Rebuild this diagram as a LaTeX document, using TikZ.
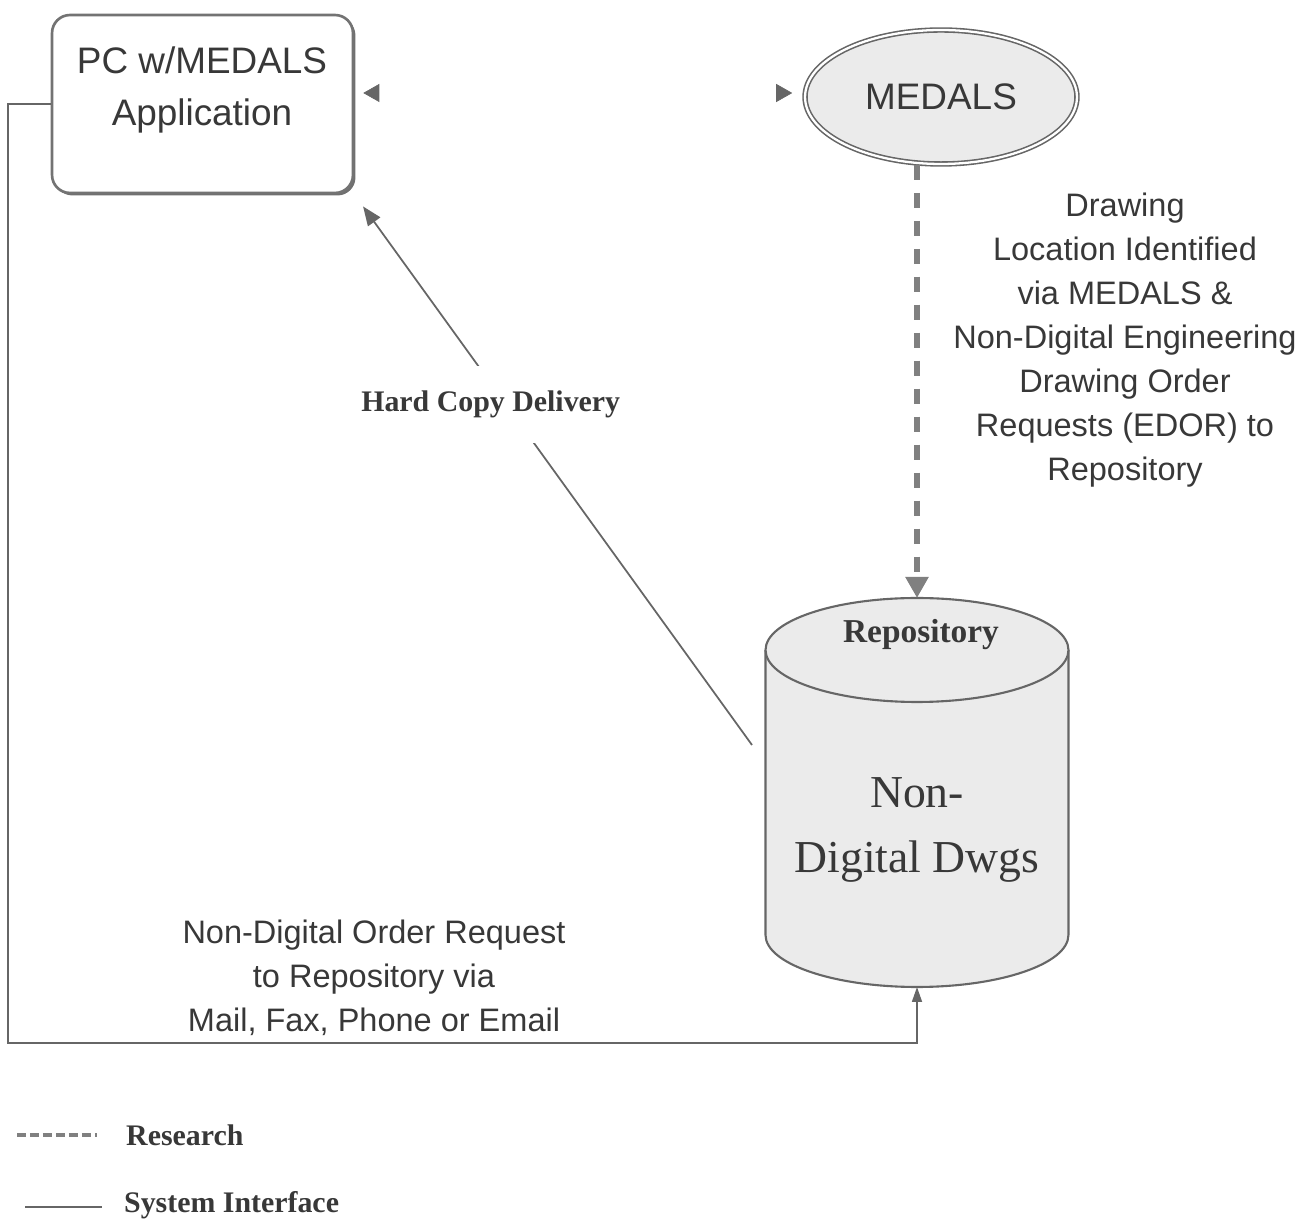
\documentclass[tikz,border=0pt]{standalone}
\usepackage{fontspec}
\setmainfont{Liberation Serif}
\setsansfont{Liberation Sans}
\usetikzlibrary{arrows.meta,shapes.geometric,shadows}

\begin{document}
\begin{tikzpicture}[x=0.02cm, y=0.02cm,
    every node/.style={text=black!78},
    sysline/.style={draw=black!60, line width=1pt},
    research/.style={draw=black!50, line width=3.2pt, dash pattern=on 0.3cm off 0.26cm},
    pcbox/.style={draw=black!55, line width=1.5pt, rounded corners=0.36cm, fill=white,
      minimum width=6.02cm, minimum height=3.56cm,
      drop shadow={shadow xshift=0.05cm, shadow yshift=-0.05cm, fill=black!70, opacity=0.8}},
    medalsbox/.style={ellipse, draw=black!60, line width=0.9pt, double=white, double distance=1.3pt,
      fill=black!8, minimum width=5.44cm, minimum height=2.68cm,
      font=\sffamily\fontsize{21}{29.6}\selectfont},
    dbbox/.style={draw=black!60, line width=1.2pt, fill=black!8},
    boxfont/.style={font=\sffamily\fontsize{21}{29.6}\selectfont, align=center},
    sansnote/.style={font=\sffamily\fontsize{18.5}{25}\selectfont, align=center},
    serifnote/.style={font=\bfseries\fontsize{17}{20}\selectfont},
  ]
  \useasboundingbox (0,0) rectangle (1316,1228);

  % boxes
  \node[pcbox] (pc) at (202.5,1124) {};
  \node[boxfont] (pctext) at (202,1138) {PC w/MEDALS\\Application};
  \node[medalsbox] (medals) at (941,1131) {MEDALS};

  % repository
  \draw[dbbox] (765.5,578) -- (765.5,293)
    arc[start angle=180, end angle=360, x radius=3.03cm, y radius=1.04cm] -- (1068.5,578);
  \draw[dbbox] (917,578) ellipse[x radius=3.03cm, y radius=1.04cm];
  \coordinate (repotop) at (917,630);
  \coordinate (repobot) at (917,241);
  \node[font=\bfseries\fontsize{19}{22}\selectfont] (repolabel) at (921,593) {Repository};
  \node[font=\fontsize{26}{37}\selectfont, align=center] (repotext) at (917,398) {Non-\\Digital Dwgs};

  % notes
  \node[sansnote] (locnote) at (1125,888) {Drawing\\Location Identified\\via MEDALS \&\\Non-Digital Engineering\\Drawing Order\\Requests (EDOR) to\\Repository};
  \node[sansnote] (ordernote) at (374,250) {Non-Digital Order Request\\to Repository via\\Mail, Fax, Phone or Email};

  % connectors
  \draw[white, {Triangle[color=black!60, length=0.32cm, width=0.36cm]}-{Triangle[color=black!60, length=0.32cm, width=0.36cm]},
    shorten <=0.18cm, shorten >=0.24cm] ([yshift=0.22cm]pc.east) -- ([yshift=0.08cm]medals.west);
  \draw[research, -{Triangle[length=0.42cm, width=0.44cm]}] (medals.south -| repotop) -- (repotop);
  \coordinate (hcstart) at (752,483);
  \draw[sysline, -{Triangle[length=0.38cm, width=0.3cm]}, shorten >=0.3cm] (hcstart)
    -- node[pos=0.618, xshift=-0.31cm, fill=white, inner xsep=2pt, inner ysep=0.5cm, serifnote] (hclabel) {Hard Copy Delivery}
    (pc.south east);
  \coordinate (corner) at (8,185);
  \draw[sysline, -{Triangle[length=0.3cm, width=0.2cm]}] (pc.west) -| (corner) -| (repobot);

  % legend
  \node[serifnote, anchor=west] (legres) at (120,93) {Research};
  \node[serifnote, anchor=west] (legsys) at (118,23) {System Interface};
  \coordinate (legresA) at (17,93);
  \coordinate (legsysA) at (25,21);
  \draw[research, line width=2.6pt, dash pattern=on 0.18cm off 0.08cm] (legresA) -- ([xshift=-0.46cm]legres.west |- legresA);
  \draw[sysline] (legsysA) -- ([xshift=-0.32cm]legsys.west |- legsysA);
\end{tikzpicture}
\end{document}
